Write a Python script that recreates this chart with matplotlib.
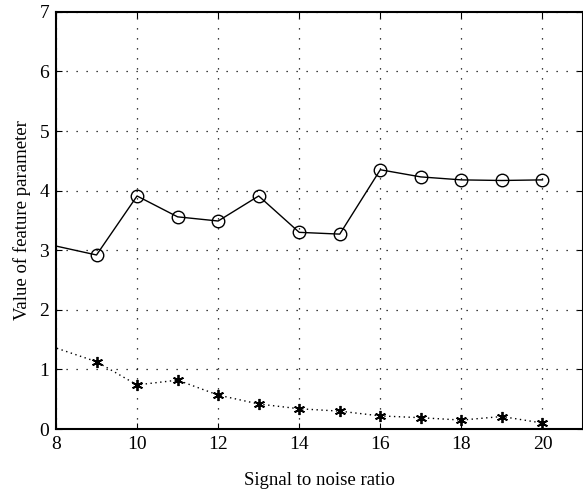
import matplotlib.pyplot as plt

plt.rcParams['font.family'] = ['Liberation Serif', 'DejaVu Serif']

snr = [7, 9, 10, 11, 12, 13, 14, 15, 16, 17, 18, 19, 20]
feat_a = [3.22, 2.92, 3.91, 3.56, 3.49, 3.91, 3.30, 3.27, 4.35, 4.23, 4.18, 4.17, 4.18]
feat_b = [1.59, 1.13, 0.74, 0.82, 0.57, 0.42, 0.34, 0.30, 0.22, 0.19, 0.15, 0.21, 0.10]

fig = plt.figure(figsize=(5.83, 4.92), dpi=100)
ax = fig.add_axes([0.096, 0.128, 0.904, 0.848])

ax.plot(snr, feat_a, color='black', linewidth=1.0, marker='o', markersize=9,
        markerfacecolor='none', markeredgecolor='black', markeredgewidth=1.0)
ax.plot(snr, feat_b, color='black', linewidth=1.0, linestyle=(0, (1, 2.5)), marker=(6, 2, 0),
        markersize=8, markeredgewidth=1.3)

ax.set_xlim(8, 21)
ax.set_ylim(0, 7)
ax.set_xticks([8, 10, 12, 14, 16, 18, 20])
ax.set_yticks(range(0, 8))
ax.grid(True, color='black', linestyle=(0, (1, 7)), linewidth=0.9)
ax.tick_params(direction='in', top=True, right=True, labelsize=14, length=4, pad=5)
for s in ax.spines.values():
    s.set_linewidth(1.5)

ax.set_xlabel('Signal to noise ratio', fontsize=13.5, labelpad=14)
ax.set_ylabel('Value of feature parameter', fontsize=13.5, labelpad=6)

fig.savefig('out.png', dpi=100)
